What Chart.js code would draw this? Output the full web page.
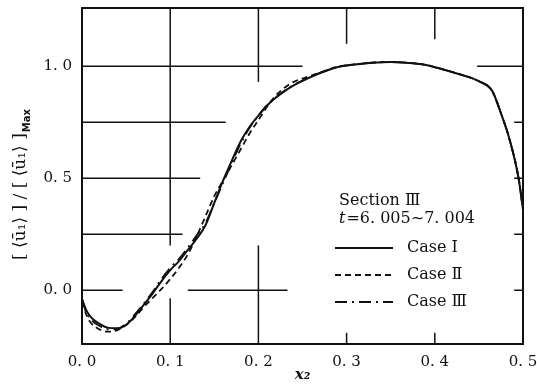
<!DOCTYPE html>
<html>
<head>
<meta charset="utf-8">
<script src="https://cdn.jsdelivr.net/npm/chart.js@4.4.0/dist/chart.umd.min.js"></script>
<style>
  html, body { margin: 0; padding: 0; background: #fff; }
  #wrap { width: 537px; height: 392px; }
</style>
</head>
<body>
<div id="wrap"><canvas id="profileChart" width="537" height="392"></canvas></div>
<script>
// x2 positions (shared by the three cases)
var xPos = [0, 0.005, 0.01, 0.02, 0.03, 0.04, 0.05, 0.06, 0.07, 0.08, 0.09,
    0.10, 0.11, 0.12, 0.13, 0.14, 0.15, 0.16, 0.17, 0.18, 0.19, 0.20, 0.21, 0.22, 0.23, 0.24, 0.25,
    0.27, 0.29, 0.31, 0.33, 0.35, 0.37, 0.39, 0.41, 0.43, 0.45,
    0.465, 0.475, 0.485, 0.495, 0.50];

var caseI = [-0.04, -0.09, -0.12, -0.15, -0.168, -0.17, -0.155, -0.115, -0.065, -0.015, 0.04,
    0.09, 0.13, 0.18, 0.23, 0.29, 0.39, 0.49, 0.58, 0.665, 0.73, 0.78, 0.825, 0.86, 0.89, 0.915, 0.935,
    0.97, 0.997, 1.008, 1.016, 1.019, 1.015, 1.006, 0.985, 0.962, 0.933,
    0.89, 0.79, 0.67, 0.5, 0.36];

var caseII = [-0.05, -0.11, -0.145, -0.175, -0.185, -0.178, -0.155, -0.12, -0.075, -0.035, 0.005,
    0.05, 0.1, 0.16, 0.24, 0.33, 0.42, 0.49, 0.56, 0.63, 0.70, 0.76, 0.82, 0.87, 0.905, 0.93, 0.945,
    0.972, 0.998, 1.009, 1.016, 1.019, 1.015, 1.006, 0.985, 0.962, 0.933,
    0.89, 0.79, 0.67, 0.5, 0.36];

var caseIII = [-0.04, -0.1, -0.13, -0.16, -0.175, -0.172, -0.15, -0.108, -0.06, -0.008, 0.05,
    0.1, 0.14, 0.19, 0.245, 0.3, 0.39, 0.48, 0.57, 0.655, 0.725, 0.78, 0.828, 0.862, 0.892, 0.916, 0.936,
    0.971, 0.997, 1.008, 1.016, 1.019, 1.015, 1.006, 0.985, 0.962, 0.933,
    0.89, 0.79, 0.67, 0.5, 0.36];

var caseNames = ['Case \u2160', 'Case \u2161', 'Case \u2162'];
var xTicks = [0, 0.1, 0.2, 0.3, 0.4, 0.5];
var yTicks = [0, 0.5, 1.0];

function toPoints(ys) {
    return xPos.map(function (x, i) { return { x: x, y: ys[i] }; });
}

function fmt(v) {
    // tick labels are printed like "0. 5"
    return v.toFixed(1).replace('.', '. ');
}

var serif = '"DejaVu Serif", "Liberation Serif", serif';

// partial grid strokes of the original figure, in axis units
var gridH = [[1.0, 0, 0.25], [1.0, 0.448, 0.5], [0.75, 0, 0.163], [0.75, 0.49, 0.5],
    [0.5, 0, 0.134], [0.5, 0.49, 0.5], [0.25, 0, 0.114], [0.25, 0.49, 0.5],
    [0, 0, 0.046], [0, 0.12, 0.233], [0, 0.49, 0.5]];
var gridV = [[0.1, 0.2, 1.26], [0.1, -0.24, -0.036], [0.2, 0.93, 1.26], [0.2, -0.24, 0.2],
    [0.3, 1.10, 1.26], [0.3, -0.24, -0.19], [0.4, 1.12, 1.26], [0.4, -0.24, -0.19]];

var framePlugin = {
    id: 'frame',
    beforeDatasetsDraw: function (chart) {
        var ctx = chart.ctx, xs = chart.scales.x, ys = chart.scales.y, a = chart.chartArea;
        ctx.save();
        ctx.strokeStyle = '#111';
        ctx.lineWidth = 1.5;
        gridH.forEach(function (g) {
            var py = ys.getPixelForValue(g[0]);
            ctx.beginPath();
            ctx.moveTo(xs.getPixelForValue(g[1]), py);
            ctx.lineTo(xs.getPixelForValue(g[2]), py);
            ctx.stroke();
        });
        gridV.forEach(function (g) {
            var px = xs.getPixelForValue(g[0]);
            ctx.beginPath();
            ctx.moveTo(px, Math.max(a.top, ys.getPixelForValue(g[2])));
            ctx.lineTo(px, Math.min(a.bottom, ys.getPixelForValue(g[1])));
            ctx.stroke();
        });
        ctx.lineWidth = 2;
        ctx.strokeRect(a.left, a.top, a.right - a.left, a.bottom - a.top);
        ctx.restore();
    },
    afterDraw: function (chart) {
        var ctx = chart.ctx, a = chart.chartArea;
        ctx.save();
        ctx.fillStyle = '#111';
        ctx.textBaseline = 'middle';

        // legend block
        ctx.font = '16px ' + serif;
        ctx.textAlign = 'left';
        ctx.fillText('Section \u2162', 339, 201);
        ctx.font = 'italic 16px ' + serif;
        ctx.fillText('t', 339, 219);
        var tw = ctx.measureText('t').width;
        ctx.font = '16px ' + serif;
        ctx.fillText('=6. 005~7. 004', 339 + tw + 1, 219);

        var rows = [248, 275, 302];
        chart.data.datasets.forEach(function (ds, i) {
            ctx.save();
            ctx.strokeStyle = ds.borderColor;
            ctx.lineWidth = ds.borderWidth;
            ctx.setLineDash(ds.borderDash || []);
            ctx.beginPath();
            ctx.moveTo(335, rows[i]);
            ctx.lineTo(393, rows[i]);
            ctx.stroke();
            ctx.restore();
            ctx.fillText(ds.label, 407, rows[i]);
        });

        // x axis title
        ctx.textAlign = 'center';
        ctx.font = 'italic bold 15px ' + serif;
        ctx.fillText('x\u2082', (a.left + a.right) / 2, 375);

        // y axis title, rotated, with "Max" subscript
        ctx.translate(21, 185);
        ctx.rotate(-Math.PI / 2);
        var main = '[ \u27E8\u016B\u2081\u27E9 ] / [ \u27E8\u016B\u2081\u27E9 ]';
        ctx.font = 'bold 10px "DejaVu Sans", sans-serif';
        var sw = ctx.measureText('Max').width;
        ctx.font = '17px ' + serif;
        var mw = ctx.measureText(main).width;
        var start = -(mw + sw) / 2;
        ctx.textAlign = 'left';
        ctx.fillText(main, start, 0);
        ctx.font = 'bold 10px "DejaVu Sans", sans-serif';
        ctx.fillText('Max', start + mw + 1, 6);
        ctx.restore();
    }
};

var ctx = document.getElementById('profileChart').getContext('2d');
var profileChart = new Chart(ctx, {
    type: 'line',
    data: {
        datasets: [{
            label: caseNames[0],
            data: toPoints(caseI),
            borderColor: '#111',
            borderWidth: 2,
            pointRadius: 0,
            cubicInterpolationMode: 'monotone'
        }, {
            label: caseNames[1],
            data: toPoints(caseII),
            borderColor: '#111',
            borderWidth: 1.8,
            borderDash: [6, 4],
            pointRadius: 0,
            cubicInterpolationMode: 'monotone'
        }, {
            label: caseNames[2],
            data: toPoints(caseIII),
            borderColor: '#111',
            borderWidth: 1.8,
            borderDash: [12, 5, 2, 5],
            pointRadius: 0,
            cubicInterpolationMode: 'monotone'
        }]
    },
    options: {
        responsive: false,
        animation: false,
        layout: { padding: { top: 8, right: 14, left: 0, bottom: 0 } },
        plugins: {
            legend: { display: false },
            tooltip: { enabled: false }
        },
        scales: {
            x: {
                type: 'linear',
                min: 0,
                max: 0.5,
                afterBuildTicks: function (s) { s.ticks = xTicks.map(function (v) { return { value: v }; }); },
                afterFit: function (s) {
                    s.height = 48;
                    s.paddingLeft = 0;
                    s.paddingRight = 0;
                },
                grid: { display: false, drawTicks: false },
                border: { display: false },
                ticks: {
                    autoSkip: false,
                    maxRotation: 0,
                    padding: 9,
                    color: '#111',
                    font: { family: serif, size: 15 },
                    callback: function (v) { return fmt(v); }
                }
            },
            y: {
                min: -0.24,
                max: 1.26,
                afterBuildTicks: function (s) { s.ticks = yTicks.map(function (v) { return { value: v }; }); },
                afterFit: function (s) {
                    s.width = 82;
                    s.paddingTop = 0;
                    s.paddingBottom = 0;
                },
                grid: { display: false, drawTicks: false },
                border: { display: false },
                ticks: {
                    padding: 10,
                    color: '#111',
                    font: { family: serif, size: 15 },
                    callback: function (v) { return fmt(v); }
                }
            }
        }
    },
    plugins: [framePlugin]
});
</script>
</body>
</html>
